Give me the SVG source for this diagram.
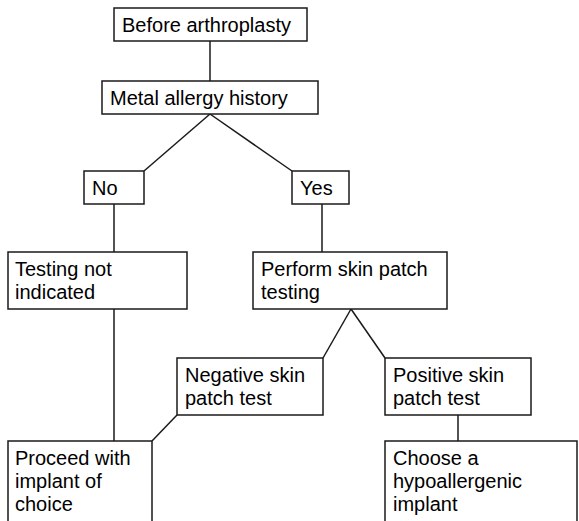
<svg xmlns="http://www.w3.org/2000/svg" width="579" height="521" viewBox="0 0 579 521">
<style>
rect{fill:#fff;stroke:#1a1a1a;stroke-width:1.5}
text{font-family:"Liberation Sans",Arial,sans-serif;font-size:20px;fill:#000}
.c line{stroke:#1a1a1a;stroke-width:1.5}
</style>
<rect x="0" y="0" width="579" height="521" style="stroke:none;fill:#fff"/>
<g class="c" id="connectors">
<line x1="210" y1="41" x2="210" y2="81"/>
<line x1="210" y1="114" x2="144" y2="171"/>
<line x1="210" y1="114" x2="292" y2="171"/>
<line x1="114" y1="204" x2="114" y2="252"/>
<line x1="322" y1="204" x2="322" y2="252"/>
<line x1="351" y1="309" x2="323" y2="358"/>
<line x1="351" y1="309" x2="385" y2="358"/>
<line x1="114" y1="309" x2="114" y2="441"/>
<line x1="177" y1="415" x2="152" y2="441"/>
<line x1="458" y1="415" x2="458" y2="441"/>
</g>
<g id="before"><rect x="114" y="8" width="193" height="33"/><text x="122" y="32">Before arthroplasty</text></g>
<g id="metal"><rect x="102" y="81" width="216" height="33"/><text x="110" y="105">Metal allergy history</text></g>
<g id="no"><rect x="84" y="171" width="60" height="33"/><text x="92" y="195">No</text></g>
<g id="yes"><rect x="292" y="171" width="57" height="33"/><text x="300" y="195">Yes</text></g>
<g id="testing"><rect x="8" y="252" width="179" height="57"/><text x="15" y="276">Testing not</text><text x="15" y="299">indicated</text></g>
<g id="perform"><rect x="253" y="252" width="194" height="57"/><text x="261" y="276">Perform skin patch</text><text x="261" y="299">testing</text></g>
<g id="negative"><rect x="177" y="358" width="146" height="57"/><text x="185" y="382">Negative skin</text><text x="185" y="405">patch test</text></g>
<g id="positive"><rect x="385" y="358" width="146" height="57"/><text x="393" y="382">Positive skin</text><text x="393" y="405">patch test</text></g>
<g id="proceed"><rect x="8" y="441" width="144" height="100"/><text x="15" y="465">Proceed with</text><text x="15" y="488">implant of</text><text x="15" y="511">choice</text></g>
<g id="choose"><rect x="385" y="441" width="192" height="100"/><text x="393" y="465">Choose a</text><text x="393" y="488">hypoallergenic</text><text x="393" y="511">implant</text></g>
</svg>
